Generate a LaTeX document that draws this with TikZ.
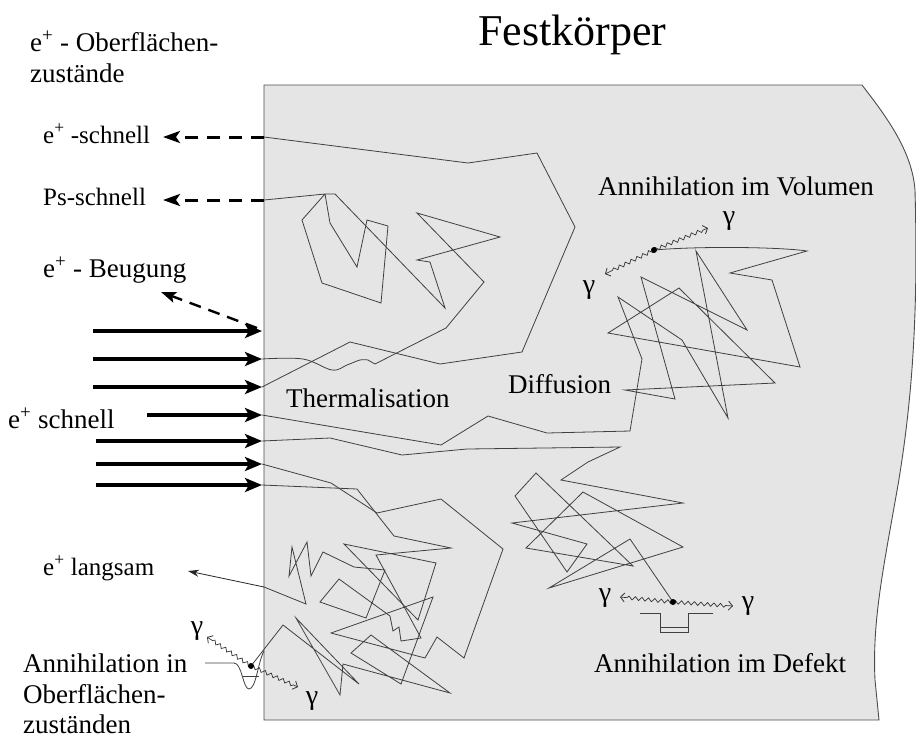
\documentclass[tikz,border=0pt]{standalone}
\usepackage{fontspec}
\setmainfont{Liberation Serif}
\usetikzlibrary{arrows.meta,decorations.pathmorphing}

\tikzset{
  walk/.style={draw=black!75,line width=0.8pt,line join=miter},
  beam/.style={line width=3.2pt,-{Stealth[length=17pt,width=14pt,inset=4pt]}},
  beamout/.style={line width=3pt,dash pattern=on 13pt off 9pt,-{Stealth[length=17pt,width=12pt,inset=4pt]}},
  photon/.style={draw=black!80,line width=0.7pt,decorate,
    decoration={snake,amplitude=1.8pt,segment length=6.5pt,post length=5pt},
    -{Straight Barb[length=4pt,width=9pt,line width=0.8pt]}},
  txt/.style={anchor=base west,inner sep=0pt,font=\fontsize{27}{32}\selectfont},
  sml/.style={txt,font=\fontsize{25}{30}\selectfont},
  gam/.style={inner sep=0pt,font=\fontsize{28}{32}\selectfont}
}

\begin{document}
\begin{tikzpicture}[x=1pt,y=-1pt]
\useasboundingbox (0,0) rectangle (916,740);

% Festkoerper
\filldraw[fill=black!10,draw=black!70,line width=0.9pt] (264,85) -- (862,85)
  .. controls (885,115) and (912,150) .. (915,190)
  .. controls (918,300) and (914,390) .. (898,485)
  .. controls (884,565) and (872,620) .. (875,680) -- (879,720) -- (264,720) -- cycle;

% einfallende Positronen
\foreach \n/\x/\y in {1/93/331,2/93/359,3/93/387,4/147/415,5/96/441,6/96/464,7/96/485}{
  \coordinate (src\n) at (\x,\y);
  \coordinate (in\n) at (262,\y);
  \draw[beam] (src\n) -- (in\n);
}

\coordinate (eout) at (264,137);
\coordinate (psout) at (264,200);
\coordinate (slow) at (264,587);
\coordinate (bstart) at (257,328);
\coordinate (etip) at (163,137);
\coordinate (pstip) at (163,200);
\coordinate (btip) at (161,292);
\coordinate (ltip) at (188,571);
\coordinate (vol) at (654,250);
\coordinate (def) at (673,602);
\coordinate (surf) at (251,666);

\draw[beamout] (eout) -- (etip);
\draw[beamout] (psout) -- (pstip);
\draw[line width=2.4pt,dash pattern=on 12pt off 8pt,-{Stealth[length=15pt,width=11pt,inset=3pt]}] (bstart) -- (btip);
\draw[black!85,line width=0.8pt,-{Stealth[length=11pt,width=7pt]}] (slow) -- (ltip);

% Pfade
\draw[walk] (in3) -- (350,342) -- (440,364) -- (522,352) -- (575,227) -- (537,153) -- (468,163) -- (eout);
\draw[walk] plot[smooth,tension=0.6] coordinates {(in2) (303,359) (332,370) (347,365) (360,360) (368,360)}
  -- (375,364) -- (446,328) -- (484,282) -- (417,213) -- (500,237) -- (417,260) -- (430,262) -- (445,308)
  -- (335,194) -- (325,194) -- (330,223) -- (357,267) -- (367,220) -- (388,226) -- (381,303) -- (322,283)
  -- (302,220) -- (325,194) -- (psout);
\draw[walk] (in4) -- (441,445) -- (488,416) -- (547,433) -- (630,431) -- (642,359) -- (618,297) -- (682,340)
  -- (728,418) -- (696,251) -- (747,330) -- (641,277) -- (675,399) -- (625,390) -- (775,383) -- (679,288)
  -- (608,333) -- (800,367) -- (772,280) -- (730,273) -- (807,251) .. controls (780,247) and (700,246) .. (vol);
\draw[walk] (in5) -- (330,438) -- (402,455) -- (467,449) -- (620,447) -- (588,462) -- (561,480) -- (683,503)
  -- (512,523) -- (587,544) -- (567,572) -- (515,496) -- (536,473) -- (633,566) -- (526,548) -- (583,492)
  -- (683,547) -- (549,588) -- (630,539) -- (def);
\draw[walk] (in6) -- (331,483) -- (377,513) -- (441,499) -- (503,549) -- (464,658) -- (437,637) -- (425,658)
  -- (331,633) -- (433,597) -- (401,684) -- (351,653) -- (371,635) -- (450,693) -- (343,664) -- (340,695)
  -- (296,618) -- (359,684) -- (283,625) -- (surf);
\draw[walk] (in7) -- (357,489) -- (394,536) -- (451,548) -- (376,555) -- (421,638) -- (401,641) -- (399,627)
  -- (393,631) -- (390,616) -- (339,579) -- (320,602) -- (366,618) -- (385,570) -- (354,567) -- (323,552)
  -- (311,576) -- (307,542) -- (289,576) -- (292,547) -- (306,604) -- (slow);
\draw[walk] (344,544) -- (436,563) -- (418,620) -- cycle;

% Potentialtoepfe
\draw[walk] (205,663) -- (234,663) .. controls (242,663) and (243,689) .. (249,689)
  .. controls (256,689) and (258,662) .. (264,651);
\draw[walk] (243,676) -- (259,676);
\draw[walk] (640,613) -- (660,613) -- (660,632) -- (688,632) -- (688,613) -- (713,613);
\draw[walk] (660,627) -- (688,627);

% Vernichtungsstrahlung
\draw[photon] (vol) -- (708,228);
\draw[photon] (vol) -- (605,274);
\draw[photon] (def) -- (620,597);
\draw[photon] (def) -- (733,606);
\draw[photon] (surf) -- (207,637);
\draw[photon] (surf) -- (298,687);
\foreach \p in {vol,def,surf}
  \fill (\p) circle[radius=3pt];

\node[gam] (gv1) at (729,221) {γ};
\node[gam] (gv2) at (589,290) {γ};
\node[gam] (gd1) at (605,598) {γ};
\node[gam] (gd2) at (748,606) {γ};
\node[gam] (gs1) at (197,631) {γ};
\node[gam] (gs2) at (312,701) {γ};

% Beschriftung
\node[txt,font=\fontsize{44}{50}\selectfont] (title) at (478,45) {Festkörper};
\node[txt] (osurf) at (30,51) {e\textsuperscript{+} - Oberflächen-};
\node[txt] (osurfb) at (30,82) {zustände};
\node[sml] (eschnell) at (43,143) {e\textsuperscript{+} -schnell};
\node[sml] (psschnell) at (43,205) {Ps-schnell};
\node[txt] (beug) at (43,277) {e\textsuperscript{+} - Beugung};
\node[txt] (efast) at (8,428) {e\textsuperscript{+} schnell};
\node[sml] (eslow) at (43,575) {e\textsuperscript{+} langsam};
\node[txt] (asurf) at (23,672) {Annihilation in};
\node[txt] (asurfb) at (23,703) {Oberflächen-};
\node[txt] (asurfc) at (23,733) {zuständen};
\node[txt] (therm) at (286,407) {Thermalisation};
\node[txt] (diff) at (508,393) {Diffusion};
\node[txt] (avol) at (598,195) {Annihilation im Volumen};
\node[txt] (adef) at (594,672) {Annihilation im Defekt};
\end{tikzpicture}
\end{document}
